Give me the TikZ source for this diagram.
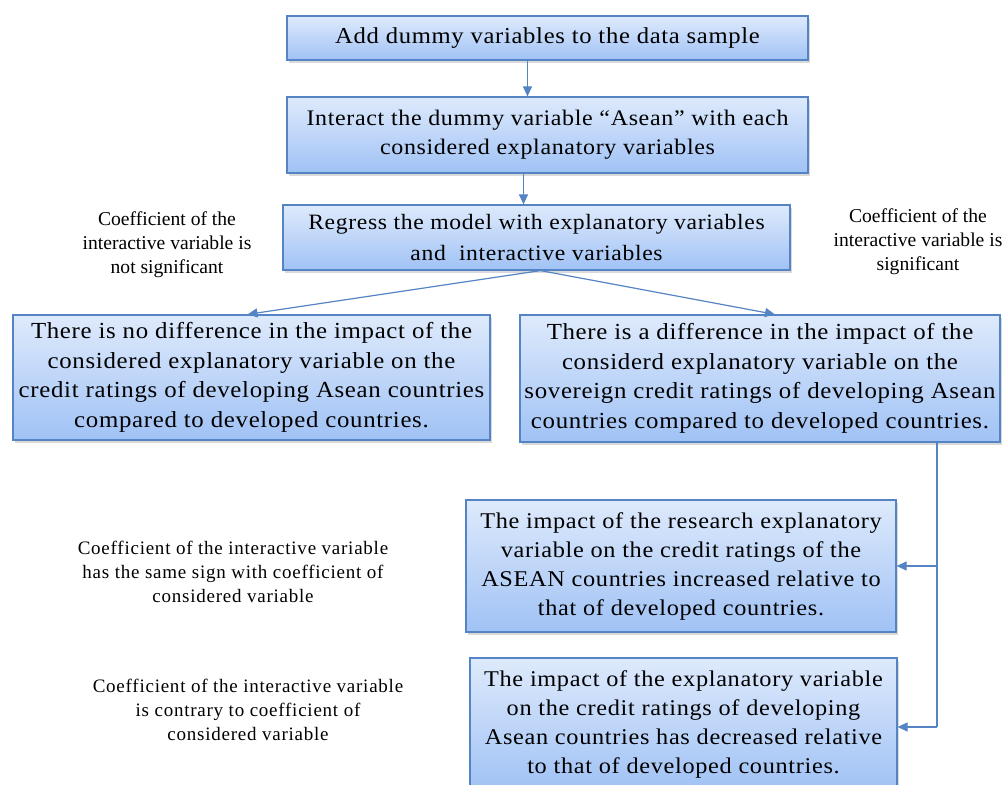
\documentclass[tikz,border=0pt]{standalone}
\usepackage{fontspec}
\setmainfont{Liberation Serif}
\newfontfamily\boxserif[FakeStretch=1.08, LetterSpace=3]{Liberation Serif}
\newfontfamily\spacedserif[LetterSpace=4]{Liberation Serif}
\usetikzlibrary{arrows.meta,shadows}
\definecolor{boxline}{RGB}{84,132,196}
\definecolor{boxtop}{RGB}{222,234,252}
\definecolor{boxbottom}{RGB}{160,194,245}
\tikzset{
  flowbox/.style={draw=boxline, line width=0.6pt, top color=boxtop, bottom color=boxbottom,
    align=center, inner sep=2pt, drop shadow={shadow xshift=1pt, shadow yshift=-1.5pt, opacity=0.3}},
  flowarrow/.style={draw=boxline, line width=0.6pt, -{Triangle[length=5pt,width=4.5pt]}},
  notetext/.style={align=center, inner sep=0pt}
}
\begin{document}
\begin{tikzpicture}[x=0.5pt, y=-0.5pt]
            \useasboundingbox (0,0) rectangle (1003,785);
            \node[flowbox, minimum width=260.5pt, minimum height=22pt,
            font=\boxserif\fontsize{11.4}{14.5}\selectfont] (add) at (547.5,38)
            {Add dummy variables to the data sample};
            \node[flowbox, minimum width=260.5pt, minimum height=38pt,
            font=\boxserif\fontsize{11.1}{14.5}\selectfont] (interact) at (547.5,135)
            {Interact the dummy variable “Asean” with each\\considered explanatory variables};
            \node[flowbox, minimum width=253.5pt, minimum height=32.5pt,
            font=\boxserif\fontsize{10.95}{15.5}\selectfont] (regress) at (536.5,237.5)
            {Regress the model with explanatory variables\\and\ \ interactive variables};
            \node[flowbox, minimum width=238.5pt, minimum height=62.5pt,
            font=\boxserif\fontsize{11.5}{14.75}\selectfont] (nodiff) at (251.5,377.5)
            {There is no difference in the impact of the\\considered explanatory variable on the\\credit ratings of developing Asean countries\\compared to developed countries.};
            \node[flowbox, minimum width=240pt, minimum height=63.5pt,
            font=\boxserif\fontsize{11.5}{14.75}\selectfont] (diff) at (760,378.5)
            {There is a difference in the impact of the\\considerd explanatory variable on the\\sovereign credit ratings of developing Asean\\countries compared to developed countries.};
            \node[flowbox, minimum width=215pt, minimum height=66pt,
            font=\boxserif\fontsize{11.25}{14.5}\selectfont] (increased) at (681,566)
            {The impact of the research explanatory\\variable on the credit ratings of the\\ASEAN countries increased relative to\\that of developed countries.};
            \node[flowbox, minimum width=213.5pt, minimum height=66pt,
            font=\boxserif\fontsize{11.25}{14.5}\selectfont] (decreased) at (683.5,724)
            {The impact of the explanatory variable\\on the credit ratings of developing\\Asean countries has decreased relative\\to that of developed countries.};
            \node[notetext, font=\fontsize{9.8}{12}\selectfont] (notsig) at (167,245)
            {Coefficient of the\\interactive variable is\\not significant};
            \node[notetext, font=\fontsize{9.8}{12}\selectfont] (sig) at (918,242)
            {Coefficient of the\\interactive variable is\\significant};
            \node[notetext, font=\spacedserif\fontsize{9.5}{12}\selectfont] (samesign) at (233,572)
            {Coefficient of the interactive variable\\has the same sign with coefficient of\\considered variable};
            \node[notetext, font=\spacedserif\fontsize{9.5}{12}\selectfont] (contrary) at (248,710)
            {Coefficient of the interactive variable\\is contrary to coefficient of\\considered variable};
            \draw[flowarrow] ([xshift=-10pt]add.south) -- ([xshift=-10pt]add.south |- interact.north);
            \draw[flowarrow] ([xshift=-12pt]interact.south) -- ([xshift=-12pt]interact.south |- regress.north);
            \draw[flowarrow] ([xshift=2pt]regress.south) -- ([xshift=-2pt]nodiff.north);
            \draw[flowarrow] ([xshift=2pt]regress.south) -- ([xshift=7.5pt]diff.north);
            \coordinate (elbow) at (937,727);
            \draw[boxline, line width=0.6pt] (elbow |- diff.south) -- (elbow);
            \draw[flowarrow] (elbow) -- (decreased.east |- elbow);
            \draw[flowarrow] (elbow |- increased.east) -- (increased.east);
\end{tikzpicture}
\end{document}
